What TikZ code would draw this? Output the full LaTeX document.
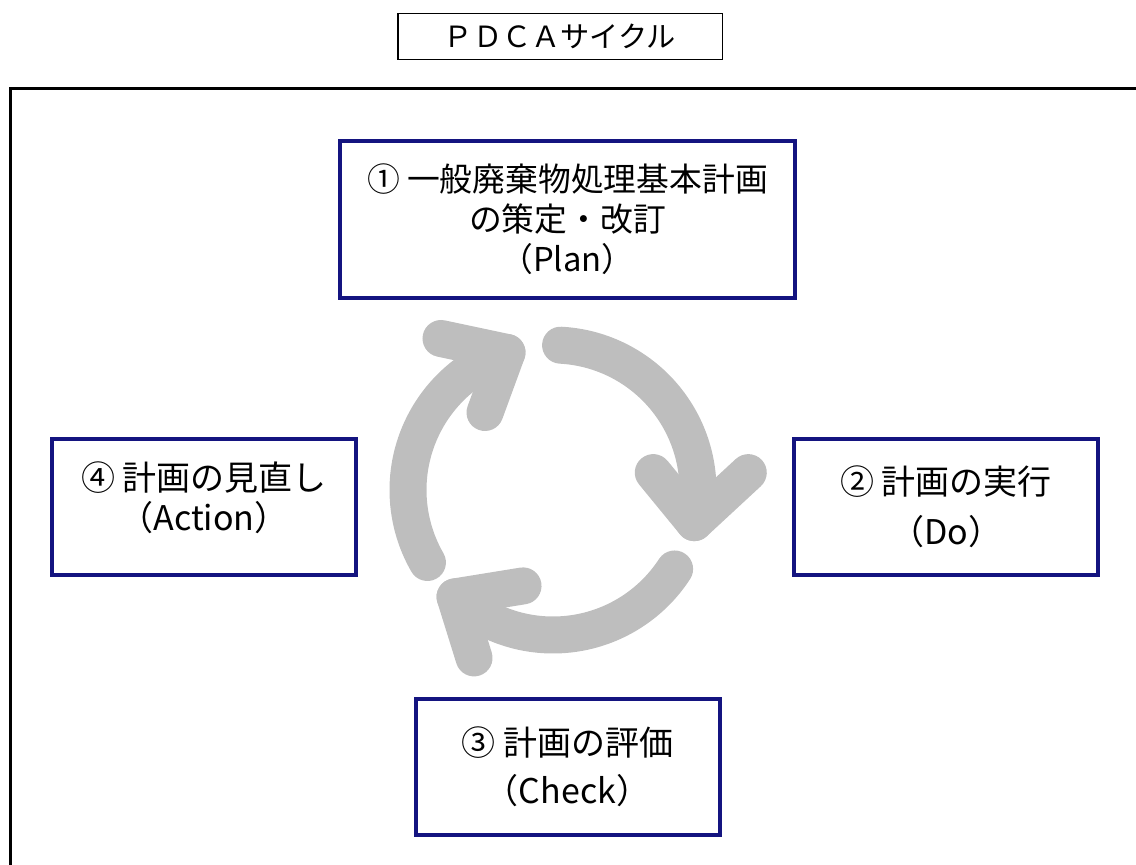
\documentclass[tikz,border=0pt]{standalone}
\usepackage{fontspec}
\setmainfont{Noto Sans CJK JP}
\usetikzlibrary{positioning}

\definecolor{boxnavy}{RGB}{20,20,128}
\definecolor{cycgray}{RGB}{190,190,190}

\tikzset{
  stage/.style={draw=boxnavy, line width=2pt, fill=white, align=center,
    inner sep=0pt, outer sep=0pt,
    font=\fontsize{17pt}{20pt}\selectfont,
    minimum width=152pt, minimum height=68pt},
  titlebox/.style={draw=black, line width=0.75pt, inner sep=0pt,
    font=\fontsize{14.6pt}{16pt}\selectfont,
    minimum width=162.25pt, minimum height=23pt},
  cycarrow/.style={draw=cycgray, line width=18.5pt,
    line cap=round, line join=round}
}

\begin{document}
\begin{tikzpicture}[x=0.5pt, y=0.5pt]
    \useasboundingbox (0,0) rectangle (1136,-865);
    % outer frame
        \draw[line width=1.5pt] (10.5,-865) -- (10.5,-89) -- (1136,-89);

    % title
        \node[titlebox] (title) at (560,-36.5) {ＰＤＣＡサイクル};

    % the four stages
        \node[stage,
              font=\fontsize{16.4pt}{20pt}\selectfont,
              minimum width=227.5pt,
              minimum height=78.5pt] (plan) at (567.5,-219.5)
              {① 一般廃棄物処理基本計画\\の策定・改訂\\（Plan）};
        \node[stage,
              below=200.5pt of plan] (check)
              {③ 計画の評価\\[4pt]（Check）};
        \node[stage,
              text depth=10.5pt] (act) at (204,-507)
              {④ 計画の見直し\\（Action）};
        \node[stage,
              right=219pt of act] (do)
              {② 計画の実行\\[5pt]（Do）};

    % the cycle arrows
        \coordinate (cyc) at (553,-490);
        \draw[cycarrow] ([shift={(87:145)}]cyc)
            arc[start angle=87, end angle=-13, radius=145] coordinate (tipP);
        \draw[cycarrow] ([shift={(-41,50)}]tipP) -- (tipP) -- ++(54,50);

        \draw[cycarrow] ([shift={(-33:145)}]cyc)
            arc[start angle=-33, end angle=-132.5, radius=145] coordinate (tipD);
        \draw[cycarrow] ([shift={(68,11)}]tipD) -- (tipD) -- ++(19,-61);

        \draw[cycarrow] ([shift={(210:145)}]cyc)
            arc[start angle=210, end angle=108.5, radius=145] coordinate (tipC);
        \draw[cycarrow] ([shift={(-66,14)}]tipC) -- (tipC) -- ++(-22,-60);
\end{tikzpicture}
\end{document}
